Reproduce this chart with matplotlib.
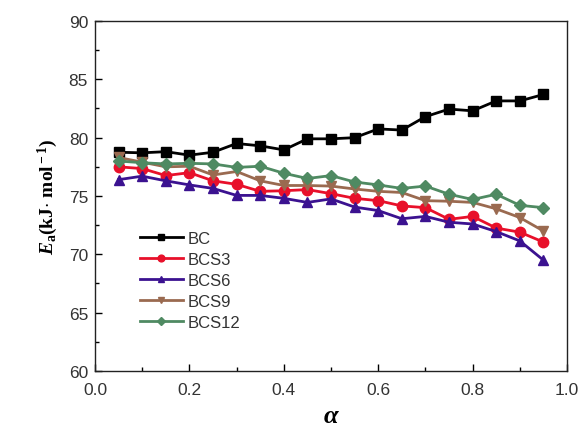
import matplotlib
matplotlib.use("Agg")
import matplotlib.pyplot as plt
import numpy as np
from matplotlib.ticker import MultipleLocator

alpha = [0.05, 0.10, 0.15, 0.20, 0.25, 0.30, 0.35, 0.40, 0.45, 0.50,
         0.55, 0.60, 0.65, 0.70, 0.75, 0.80, 0.85, 0.90, 0.95]

bc = [78.75, 78.7, 78.8, 78.5, 78.75, 79.5, 79.3, 78.95, 79.9, 79.9,
      80.0, 80.75, 80.65, 81.8, 82.45, 82.3, 83.15, 83.15, 83.7]
bcs3 = [77.5, 77.35, 76.75, 77.0, 76.3, 76.0, 75.4, 75.45, 75.55, 75.2,
        74.8, 74.6, 74.15, 74.0, 73.0, 73.25, 72.25, 71.9, 71.05]
bcs6 = [76.4, 76.7, 76.3, 75.95, 75.65, 75.05, 75.05, 74.8, 74.45, 74.75,
        74.05, 73.75, 73.05, 73.25, 72.75, 72.6, 71.95, 71.15, 69.5]
bcs9 = [78.3, 77.9, 77.5, 77.55, 76.8, 77.1, 76.3, 75.9, 75.9, 75.85,
        75.6, 75.4, 75.3, 74.6, 74.55, 74.45, 73.9, 73.15, 72.0]
bcs12 = [78.0, 77.85, 77.75, 77.8, 77.75, 77.45, 77.55, 76.95, 76.5, 76.75,
         76.2, 75.95, 75.65, 75.85, 75.15, 74.7, 75.15, 74.2, 74.0]

series = [
    ("BC", bc, "#000000", "s"),
    ("BCS3", bcs3, "#e8102a", "o"),
    ("BCS6", bcs6, "#3b1290", "^"),
    ("BCS9", bcs9, "#9a6a50", "v"),
    ("BCS12", bcs12, "#4f8a62", "D"),
]

plt.rcParams["font.family"] = ["Liberation Sans", "DejaVu Sans"]
plt.rcParams["mathtext.fontset"] = "custom"
plt.rcParams["mathtext.rm"] = "Liberation Serif:bold"
plt.rcParams["mathtext.it"] = "Liberation Serif:italic:bold"
plt.rcParams["mathtext.bf"] = "Liberation Serif:bold"

fig = plt.figure(figsize=(5.81, 4.27), dpi=100)
ax = fig.add_axes([0.1635, 0.1288, 0.8125, 0.8197])

for name, vals, col, mk in series:
    ms = 6.5 if mk == "D" else 7.5
    ax.plot(alpha, vals, color=col, marker=mk, lw=2, ms=ms, label=name)

ax.set_xlim(0.0, 1.0)
ax.set_ylim(60, 90)
ax.xaxis.set_major_locator(MultipleLocator(0.2))
ax.xaxis.set_minor_locator(MultipleLocator(0.1))
ax.yaxis.set_major_locator(MultipleLocator(5))
ax.yaxis.set_minor_locator(MultipleLocator(2.5))
ax.tick_params(which="both", direction="in", top=False, right=False,
               labelsize=12.5, labelcolor="#333333", width=1)
ax.tick_params(which="major", length=5)
ax.tick_params(which="minor", length=3)
ax.tick_params(axis="x", pad=8)
ax.tick_params(axis="y", pad=5)
ax.xaxis.set_major_formatter(matplotlib.ticker.FormatStrFormatter("%.1f"))
for s in ax.spines.values():
    s.set_linewidth(1)
    s.set_color("#222222")

ax.set_xlabel(r"$\alpha$", fontsize=19, labelpad=4)
ax.set_ylabel(r"$E_{\rm a}$(kJ$\cdot$ mol$^{\rm -1}$)", fontsize=14, labelpad=6,
              fontfamily="Liberation Serif", fontweight="bold")

leg = ax.legend(loc="lower left", bbox_to_anchor=(0.07, 0.085), frameon=False,
                fontsize=12, handlelength=2.6, handletextpad=0.3,
                labelspacing=0.35, borderpad=0.2, labelcolor="#333333",
                markerscale=0.65)

fig.savefig("out.png", dpi=100)
